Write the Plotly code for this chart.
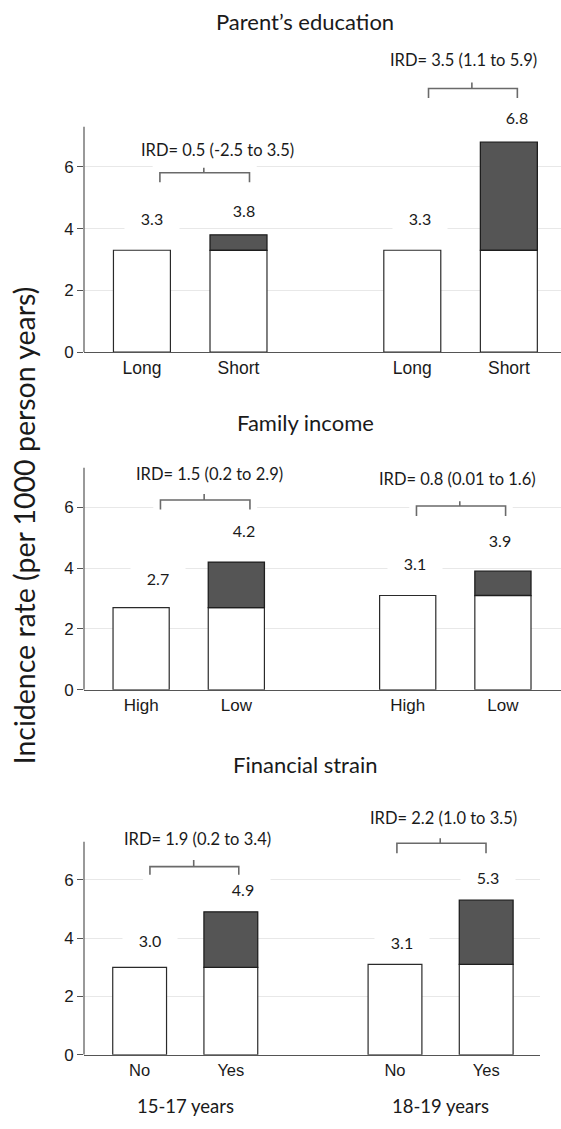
import plotly.graph_objects as go

W, H = 561, 1129

# ---- data -------------------------------------------------------------
panel_titles = ["Parent’s education", "Family income", "Financial strain"]
age_groups = ["15-17 years", "18-19 years"]
categories = [["Long", "Short"], ["High", "Low"], ["No", "Yes"]]
# incidence rate per 1000 person years: reference category, exposed category
rate_reference = [[3.3, 3.3], [2.7, 3.1], [3.0, 3.1]]
rate_exposed = [[3.8, 6.8], [4.2, 3.9], [4.9, 5.3]]
# incidence rate difference with 95% CI
ird = [[0.5, 3.5], [1.5, 0.8], [1.9, 2.2]]
ird_low = [[-2.5, 1.1], [0.2, 0.01], [0.2, 1.0]]
ird_high = [[3.5, 5.9], [2.9, 1.6], [3.4, 3.5]]
y_ticks = [0, 2, 4, 6]

# ---- layout settings --------------------------------------------------
GROUP_X = [0.0, 2.8]          # x of the first bar of each age group
BAR_W = 0.59
AXIS_TOP = 7.3
FRAMES = [  # pixel frame of each panel and its axis ranges
    dict(left=84, right=561, zero=355.3, ppu=31.15, xr=[-0.6, 4.34], ymax=10.0, tick=17.5),
    dict(left=84, right=561, zero=696.0, ppu=30.7, xr=[-0.6, 4.41], ymax=8.0, tick=17),
    dict(left=84, right=540, zero=1064.3, ppu=29.45, xr=[-0.61, 4.39], ymax=9.0, tick=16.5),
]
TITLE_Y = [22, 426.7, 771.7]
# value label offsets (dx, dy) from each bar top
LABEL_OFF = [
    [(0.10, 1.04), (0.055, 0.81), (0.075, 1.04), (0.088, 0.81)],
    [(0.177, 0.97), (0.08, 1.04), (0.081, 1.06), (-0.03, 1.02)],
    [(0.116, 0.95), (0.131, 0.77), (0.076, 0.76), (0.02, 0.79)],
]
# bracket geometry: x_left, x_right, x_tick, y_line, y_bottom, y_tick_top ; text x, y
BRACKETS = [
    [((0.186, 1.114, 0.641, 5.81, 5.50, 5.97), (0.786, 6.56)),
     ((2.968, 3.888, 3.417, 8.54, 8.23, 8.73), (3.334, 9.46))],
    [((0.203, 1.143, 0.662, 6.24, 5.93, 6.44), (0.72, 7.09)),
     ((2.892, 3.828, 3.347, 6.04, 5.71, 6.20), (3.319, 6.93))],
    [((0.113, 1.087, 0.593, 6.45, 6.17, 6.68), (0.629, 7.39)),
     ((2.821, 3.798, 3.296, 7.25, 6.91, 7.42), (3.327, 8.13))],
]

TXT = "#1a1a1a"
LBL_FONT = "Lato, 'Open Sans', sans-serif"
TICK_FONT = "Arial, Liberation Sans, sans-serif"


def fmt_ci(v):
    return f"{v:.2f}" if round(v, 1) != v else f"{v:.1f}"


fig = go.Figure()
shapes, annotations = [], []

for p in range(3):
    fr = FRAMES[p]
    sfx = "" if p == 0 else str(p + 1)
    xa, ya = "x" + sfx, "y" + sfx

    xs = [g + k for g in GROUP_X for k in (0, 1)]
    white = [rate_reference[p][g] for g in range(2) for _ in (0, 1)]
    fig.add_trace(go.Bar(
        x=xs, y=white, width=BAR_W, xaxis=xa, yaxis=ya,
        marker=dict(color="white", line=dict(color="#2a2a2a", width=1.2)),
        showlegend=False, hoverinfo="skip"))
    fig.add_trace(go.Bar(
        x=[g + 1 for g in GROUP_X],
        base=rate_reference[p],
        y=[round(rate_exposed[p][g] - rate_reference[p][g], 3) for g in range(2)],
        width=BAR_W, xaxis=xa, yaxis=ya,
        marker=dict(color="#555555", line=dict(color="#1e1e1e", width=1.3)),
        showlegend=False, hoverinfo="skip"))

    # axes
    y_bot = 1 - fr["zero"] / H
    y_top = 1 - (fr["zero"] - fr["ymax"] * fr["ppu"]) / H
    fig.layout["xaxis" + sfx] = dict(
        domain=[fr["left"] / W, fr["right"] / W], range=fr["xr"], anchor=ya,
        showgrid=False, zeroline=False, showline=True, linecolor="#555555", linewidth=1.2,
        ticks="", tickvals=xs, ticktext=categories[p] * 2,
        tickfont=dict(family=TICK_FONT, size=fr["tick"], color=TXT))
    fig.layout["yaxis" + sfx] = dict(
        domain=[y_bot, y_top], range=[0, fr["ymax"]], anchor=xa,
        showgrid=True, gridcolor="#e8e8e8", gridwidth=1, zeroline=False, showline=False,
        ticks="outside", ticklen=6, tickcolor="#555555", tickwidth=1,
        tickvals=y_ticks, ticktext=[str(t) for t in y_ticks],
        tickfont=dict(family=TICK_FONT, size=17, color=TXT))

    # vertical axis line stops at the top tick region
    shapes.append(dict(type="line", xref=xa + " domain", yref=ya, x0=0, x1=0,
                       y0=0, y1=AXIS_TOP, line=dict(color="#555555", width=1.2), layer="above"))

    # value labels
    vals = [rate_reference[p][0], rate_exposed[p][0], rate_reference[p][1], rate_exposed[p][1]]
    for i, (xv, v) in enumerate(zip(xs, vals)):
        dx, dy = LABEL_OFF[p][i]
        annotations.append(dict(
            x=xv + dx, y=v + dy, xref=xa, yref=ya, text=f"{v:.1f}", showarrow=False,
            xanchor="center", yanchor="middle",
            font=dict(family=LBL_FONT, size=16, color=TXT),
            bgcolor="white", width=50, height=22, borderpad=2))

    # IRD brackets
    for g in range(2):
        (xl, xr, xt, yh, yb, yt), (tx, ty) = BRACKETS[p][g]
        padx, pady = 0.075, 0.25
        shapes.append(dict(type="rect", xref=xa, yref=ya, x0=xl - padx, x1=xr + padx,
                           y0=yb - pady, y1=yt + pady, fillcolor="white",
                           line=dict(width=0), layer="above"))
        shapes.append(dict(type="path", xref=xa, yref=ya,
                           path=f"M {xl},{yb} L {xl},{yh} L {xr},{yh} L {xr},{yb} "
                                f"M {xt},{yh} L {xt},{yt}",
                           line=dict(color="#6a6a6a", width=1.6), layer="above"))
        annotations.append(dict(
            x=tx, y=ty, xref=xa, yref=ya, showarrow=False,
            xanchor="center", yanchor="middle",
            text=f"IRD= {ird[p][g]:.1f} ({fmt_ci(ird_low[p][g])} to {fmt_ci(ird_high[p][g])})",
            font=dict(family=LBL_FONT, size=16.5, color=TXT)))

    # panel title
    annotations.append(dict(
        x=305 / W, y=1 - TITLE_Y[p] / H, xref="paper", yref="paper", showarrow=False,
        xanchor="center", yanchor="middle",
        text=panel_titles[p], font=dict(family=LBL_FONT, size=22, color=TXT)))

# age group labels under the bottom panel
for g in range(2):
    annotations.append(dict(
        x=GROUP_X[g] + 0.5, y=1 - 1116 / H, xref="x3", yref="paper", showarrow=False,
        xanchor="center", yanchor="middle",
        text=age_groups[g], font=dict(family=LBL_FONT, size=18.5, color=TXT)))

# shared y axis title
annotations.append(dict(
    x=24 / W, y=1 - 530 / H, xref="paper", yref="paper", showarrow=False,
    xanchor="center", yanchor="middle",
    textangle=-90, text="Incidence rate (per 1000 person years)",
    font=dict(family=LBL_FONT, size=28.5, color=TXT)))

fig.update_layout(
    width=W, height=H, margin=dict(l=0, r=0, t=0, b=0),
    paper_bgcolor="white", plot_bgcolor="white", barmode="overlay",
    shapes=shapes, annotations=annotations)

fig.write_html("out.html")
